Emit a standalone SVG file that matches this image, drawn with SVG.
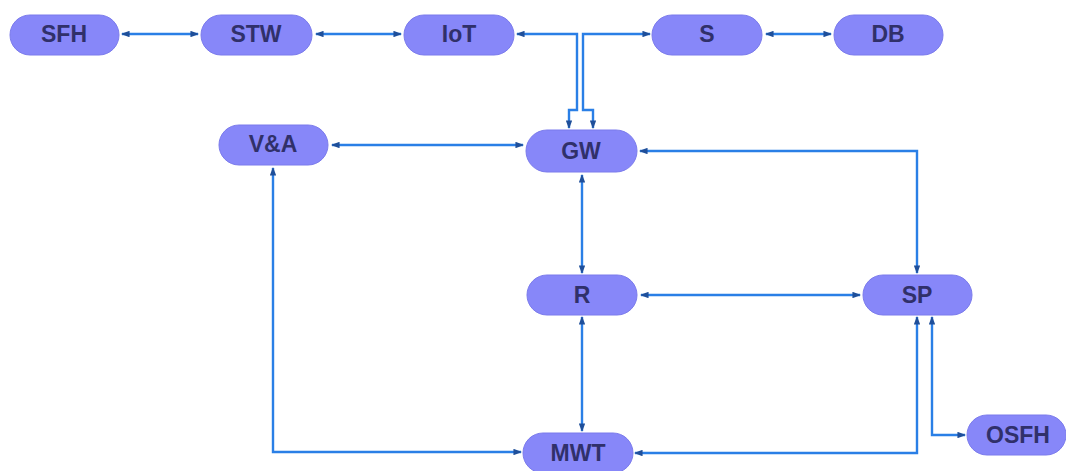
<svg xmlns="http://www.w3.org/2000/svg" width="1066" height="471" viewBox="0 0 1066 471">
<style>
.n rect{fill:#8787f9;stroke:#7b7bec;stroke-width:1}
.n text{font-family:"Liberation Sans",Arial,sans-serif;font-weight:bold;font-size:23px;fill:#30306a;text-anchor:middle}
.c path{fill:none;stroke:#2a7fe6;stroke-width:2.4;marker-start:url(#a);marker-end:url(#a)}
</style>
<defs>
<marker id="a" viewBox="0 0 8 6" refX="7" refY="3" markerWidth="3.6" markerHeight="2.7" orient="auto-start-reverse" markerUnits="strokeWidth">
<path d="M0,0 L8,3 L0,6 z" fill="#1f4f9a"/>
</marker>
</defs>
<rect width="1066" height="471" fill="#ffffff"/>
<g class="c" id="connectors">
<path d="M122,34 H198"/>
<path d="M316,34 H401"/>
<path d="M517,34 H577 V110 H569 V128"/>
<path d="M650,34 H583 V110 H593 V128"/>
<path d="M766,34 H831"/>
<path d="M332,145 H523"/>
<path d="M640,151 H917 V273"/>
<path d="M582,175 V273"/>
<path d="M641,295 H860"/>
<path d="M582,317 V431"/>
<path d="M273,168 V452 H521"/>
<path d="M917,317 V453 H635"/>
<path d="M932,317 V435 H965"/>
</g>
<g class="n" id="SFH"><rect x="10" y="15" width="109" height="40" rx="20"/><text x="64" y="42">SFH</text></g>
<g class="n" id="STW"><rect x="201" y="15" width="111" height="40" rx="20"/><text x="256" y="42">STW</text></g>
<g class="n" id="IoT"><rect x="404" y="15" width="110" height="40" rx="20"/><text x="459" y="42">IoT</text></g>
<g class="n" id="S"><rect x="652" y="15" width="110" height="40" rx="20"/><text x="707" y="42">S</text></g>
<g class="n" id="DB"><rect x="834" y="15" width="109" height="40" rx="20"/><text x="888" y="42">DB</text></g>
<g class="n" id="VA"><rect x="219" y="125" width="109" height="40" rx="20"/><text x="273" y="152">V&amp;A</text></g>
<g class="n" id="GW"><rect x="526" y="130" width="111" height="42" rx="21"/><text x="581" y="159">GW</text></g>
<g class="n" id="R"><rect x="527" y="275" width="110" height="40" rx="20"/><text x="582" y="303">R</text></g>
<g class="n" id="SP"><rect x="863" y="275" width="109" height="40" rx="20"/><text x="917" y="303">SP</text></g>
<g class="n" id="MWT"><rect x="523" y="433" width="110" height="40" rx="20"/><text x="578" y="461">MWT</text></g>
<g class="n" id="OSFH"><rect x="967" y="415" width="99" height="40" rx="20"/><text x="1018" y="443">OSFH</text></g>
</svg>
